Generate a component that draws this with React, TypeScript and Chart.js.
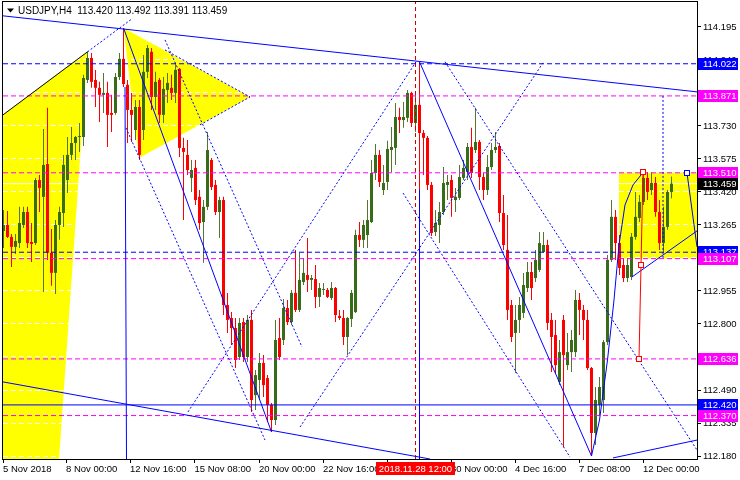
import React, { useEffect, useRef } from 'react';
import { Chart, registerables } from 'chart.js';

Chart.register(...registerables);

const FONT_FAMILY = '"Liberation Sans", Arial, sans-serif';
const FONT_SIZE = 9.5;
const symbolTitle = 'USDJPY,H4';

// H4 candles, 5 Nov 2018 -> 12 Dec 2018
const opens = [
  113.237,113.265,113.209,113.162,113.180,113.265,113.326,113.185,113.180,113.476,
  113.397,113.551,113.134,113.040,113.265,113.321,113.476,113.594,113.650,113.678,
  113.678,113.946,114.049,113.946,113.909,113.876,113.885,113.791,113.791,113.960,
  114.045,113.923,113.805,113.711,113.819,113.711,113.984,114.078,113.866,113.946,
  113.782,113.899,113.909,113.885,113.998,113.627,113.594,113.486,113.533,113.397,
  113.279,113.350,113.570,113.453,113.326,113.382,112.889,112.828,112.781,112.645,
  112.809,112.645,112.819,112.466,112.537,112.617,112.546,112.420,112.349,112.734,
  112.725,112.875,112.809,112.946,112.866,112.997,113.030,113.007,113.011,112.927,
  112.960,112.960,112.922,112.969,112.838,112.828,112.739,112.824,112.856,113.218,
  113.195,113.218,113.279,113.509,113.594,113.429,113.467,113.617,113.627,113.772,
  113.758,113.768,113.885,113.744,113.829,113.697,113.674,113.453,113.232,113.265,
  113.326,113.453,113.476,113.382,113.392,113.486,113.514,113.631,113.617,113.655,
  113.490,113.429,113.537,113.617,113.636,113.321,113.148,112.889,112.758,112.819,
  112.852,112.969,113.044,113.016,113.054,113.138,113.171,112.819,112.748,112.528,
  112.819,112.607,112.668,112.668,112.913,112.866,112.819,112.593,112.288,112.420,
  112.443,112.715,113.101,113.303,113.180,113.077,113.016,113.021,113.209,113.298,
  113.373,113.486,113.429,113.462,113.326,113.180,113.256,113.420
];
const highs = [
  113.335,113.331,113.223,113.223,113.350,113.350,113.350,113.274,113.486,113.500,
  113.716,113.815,113.246,113.288,113.350,113.594,113.678,113.725,113.683,113.744,
  113.970,114.078,114.073,113.993,113.937,113.979,113.937,113.876,113.979,114.073,
  114.190,113.946,113.885,113.852,113.852,114.063,114.110,114.096,113.984,113.955,
  113.960,113.979,113.970,114.026,114.002,113.674,113.664,113.570,113.570,113.429,
  113.382,113.702,113.580,113.476,113.397,113.397,112.946,112.856,112.828,112.828,
  112.828,112.842,112.866,112.584,112.664,112.654,112.560,112.429,112.819,112.828,
  112.917,112.913,112.960,113.148,113.134,113.110,113.204,113.030,113.077,112.993,
  112.993,112.969,112.997,112.974,112.866,112.866,112.833,112.960,113.242,113.279,
  113.288,113.382,113.570,113.645,113.617,113.547,113.660,113.725,113.838,113.815,
  113.843,113.899,113.890,113.890,114.031,113.711,113.683,113.467,113.335,113.373,
  113.537,113.500,113.500,113.439,113.547,113.570,113.650,113.721,113.815,113.664,
  113.509,113.594,113.650,113.702,113.650,113.406,113.312,112.913,112.889,112.927,
  113.040,113.091,113.091,113.148,113.232,113.232,113.195,112.852,112.819,112.725,
  112.842,112.758,112.772,112.960,112.946,112.889,112.866,112.598,112.504,112.551,
  112.725,113.124,113.382,113.335,113.218,113.110,113.110,113.227,113.420,113.406,
  113.514,113.514,113.514,113.490,113.382,113.350,113.429,113.492
];
const lows = [
  113.157,113.204,113.068,113.129,113.157,113.251,113.157,113.091,113.171,113.326,
  112.950,113.101,112.979,112.941,113.195,113.256,113.415,113.570,113.570,113.608,
  113.636,113.932,113.909,113.819,113.749,113.791,113.631,113.702,113.782,113.946,
  113.913,113.650,113.655,113.664,113.570,113.664,113.955,113.805,113.805,113.744,
  113.744,113.838,113.852,113.838,113.584,113.288,113.500,113.420,113.359,113.242,
  113.087,113.335,113.429,113.312,113.204,112.842,112.758,112.701,112.593,112.631,
  112.621,112.621,112.387,112.396,112.443,112.457,112.340,112.293,112.326,112.631,
  112.701,112.795,112.795,112.856,112.856,112.983,112.950,112.960,112.875,112.880,
  112.936,112.922,112.913,112.809,112.819,112.701,112.654,112.786,112.852,113.162,
  113.157,113.157,113.274,113.476,113.443,113.406,113.429,113.514,113.547,113.697,
  113.721,113.749,113.725,113.702,113.429,113.500,113.429,113.213,113.213,113.180,
  113.312,113.382,113.303,113.326,113.382,113.476,113.476,113.486,113.603,113.429,
  113.382,113.406,113.523,113.603,113.279,113.148,112.819,112.715,112.570,112.758,
  112.828,112.950,112.913,112.997,113.044,113.134,112.772,112.575,112.570,112.513,
  112.222,112.584,112.575,112.645,112.748,112.725,112.584,112.180,112.232,112.373,
  112.382,112.701,113.091,113.101,113.030,112.997,112.997,113.007,113.195,113.279,
  113.359,113.382,113.406,113.303,113.148,113.138,113.242,113.391
];
const closes = [
  113.265,113.209,113.162,113.190,113.274,113.326,113.180,113.176,113.476,113.439,
  113.547,113.134,113.040,113.265,113.326,113.547,113.594,113.650,113.678,113.683,
  113.955,114.049,113.937,113.909,113.876,113.885,113.782,113.782,113.960,114.045,
  113.927,113.805,113.782,113.819,113.594,113.984,114.096,113.866,113.937,113.782,
  113.904,113.932,113.885,113.993,113.627,113.608,113.523,113.523,113.382,113.274,
  113.350,113.617,113.443,113.326,113.382,112.889,112.819,112.781,112.631,112.805,
  112.645,112.819,112.443,112.560,112.617,112.513,112.420,112.349,112.725,112.645,
  112.875,112.809,112.946,112.866,113.007,113.040,113.007,113.016,112.927,112.969,
  112.964,112.927,112.969,112.842,112.828,112.739,112.828,112.946,113.218,113.195,
  113.265,113.288,113.509,113.594,113.467,113.462,113.622,113.631,113.772,113.758,
  113.772,113.885,113.744,113.829,113.697,113.674,113.453,113.227,113.274,113.326,
  113.462,113.467,113.392,113.397,113.490,113.533,113.631,113.509,113.655,113.490,
  113.429,113.537,113.617,113.631,113.321,113.171,112.866,112.739,112.819,112.889,
  112.983,113.044,112.969,113.101,113.180,113.171,112.805,112.739,112.607,112.668,
  112.654,112.668,112.725,112.913,112.866,112.819,112.593,112.288,112.443,112.504,
  112.715,113.101,113.303,113.180,113.063,113.016,113.077,113.209,113.303,113.373,
  113.486,113.420,113.462,113.326,113.180,113.256,113.420,113.459
];

// time axis (bar index units) and its labels
const xTickValues = [-0.125, 15.625, 31.625, 47.75, 63.875, 79.875, 95.875, 111.875, 127.875, 143.875, 159.875];
const xTickLabels = ['5 Nov 2018', '8 Nov 00:00', '12 Nov 16:00', '15 Nov 08:00', '20 Nov 00:00', '22 Nov 16:00',
  '27 Nov 08:00', '30 Nov 00:00', '4 Dec 16:00', '7 Dec 08:00', '12 Dec 00:00'];
const yTickValues = [112.180, 112.335, 112.490, 112.645, 112.800, 112.955, 113.110, 113.265, 113.420,
  113.575, 113.730, 113.885, 114.040, 114.195];

const X_MIN = -0.125;
const X_MAX = 173.375;
const Y_MIN = 112.166;
const Y_MAX = 114.312;

// horizontal price levels
const levelPrices = [114.022, 113.871, 113.510, 113.137, 113.107, 112.636, 112.420, 112.370];
const levelColors = ['#0000ff', '#ff00ff', '#ff00ff', '#0000ff', '#ff00ff', '#ff00ff', '#0000ff', '#ff00ff'];
const levelSolid = [false, false, false, false, false, false, true, false];
const bidPrice = 113.459;

// drawn objects: [bar index, price]
const solidBlueLines = [
  [[-0.125, 114.247], [173.375, 113.890]],
  [[-0.125, 112.528], [106.625, 112.166]],
  [[152.375, 112.171], [173.375, 112.255]],
  [[30.375, 113.913], [30.75, 112.166]],
  [[104, 113.429], [104, 112.166]],
  [[30, 114.190], [67, 112.293]],
  [[104, 114.031], [147, 112.180]],
  [[147, 112.180], [149, 112.349], [151, 112.631], [152.625, 112.913], [153.875, 113.171], [155.375, 113.359], [157.375, 113.453], [160, 113.514]],
  [[157.125, 113.021], [173.375, 113.237]],
  [[170.875, 113.509], [173.375, 113.162]],
];
const dottedBlueLines = [
  [[21, 114.078], [32.125, 114.233]],
  [[30.625, 113.721], [65.375, 112.255]],
  [[40.375, 114.134], [74.625, 112.692]],
  [[46.125, 112.387], [103.125, 114.031]],
  [[74.125, 112.316], [134.875, 114.026]],
  [[110.375, 114.031], [173.375, 112.208]],
  [[99.875, 113.415], [141.625, 112.175]],
  [[40.375, 114.087], [61.625, 113.866]],
  [[49.125, 113.735], [61.625, 113.866]],
  [[164.875, 113.871], [164.875, 113.107]],
];
const blackLines = [[[-0.125, 113.782], [21, 114.078]]];
const redLines = [[[159.875, 113.514], [158.875, 112.636]]];
const yellowShapes = [
  [[21, 114.078], [13.875, 112.166], [-2, 112.166], [-2, 113.756]],
  [[30, 114.190], [61.625, 113.866], [33.875, 113.580]],
  [[153.875, 113.510], [176, 113.510], [176, 113.107], [153.875, 113.107]],
];
const timeMarkerBar = 103;
const timeMarkerText = '2018.11.28 12:00';
const redAnchors = [[159.875, 113.514], [159.375, 113.075], [158.875, 112.636]];
const blueAnchors = [[170.875, 113.509]];

const BULL_BODY = '#386c18';
const BULL_WICK = '#557530';
const BEAR = '#ff0000';

const font = (size = FONT_SIZE) => `${size}px ${FONT_FAMILY}`;

const backgroundShapes = {
  id: 'backgroundShapes',
  beforeDraw(chart: any) {
    const { ctx, chartArea: a, scales } = chart;
    const xs = scales.x, ys = scales.y;
    ctx.save();
    ctx.beginPath();
    ctx.rect(a.left, a.top, a.right - a.left, a.bottom - a.top);
    ctx.clip();
    ctx.fillStyle = '#ffff00';
    for (const shape of yellowShapes) {
      ctx.beginPath();
      shape.forEach(([bx, p]: number[], k: number) => {
        const px = xs.getPixelForValue(bx), py = ys.getPixelForValue(p);
        if (k) ctx.lineTo(px, py); else ctx.moveTo(px, py);
      });
      ctx.closePath();
      ctx.fill();
    }
    ctx.restore();
  },
};

const overlay = {
  id: 'overlay',
  afterDraw(chart: any) {
    const { ctx, chartArea: a, scales } = chart;
    const xs = scales.x, ys = scales.y;
    ctx.save();
    // frame
    ctx.strokeStyle = '#000';
    ctx.lineWidth = 1;
    ctx.strokeRect(a.left - 0.5, a.top - 0.5, a.right - a.left + 1, a.bottom - a.top + 1);

    // anchor squares of selected objects
    const square = (pts: number[][], color: string) => {
      for (const [bx, p] of pts) {
        const px = Math.round(xs.getPixelForValue(bx)), py = Math.round(ys.getPixelForValue(p));
        ctx.fillStyle = '#fff';
        ctx.fillRect(px - 2, py - 2, 4, 4);
        ctx.strokeStyle = color;
        ctx.strokeRect(px - 2.5, py - 2.5, 5, 5);
      }
    };
    square(redAnchors, '#ff0000');
    square(blueAnchors, '#0000ff');

    // price boxes on the price axis
    const boxes = levelPrices.map((p, i) => ({ p, c: levelColors[i] }));
    boxes.push({ p: bidPrice, c: '#000000' });
    boxes.sort((u, v) => v.p - u.p);
    ctx.font = font();
    ctx.textBaseline = 'middle';
    ctx.textAlign = 'left';
    for (const b of boxes) {
      const py = ys.getPixelForValue(b.p);
      const top = Math.round(py - 6);
      ctx.fillStyle = b.c;
      ctx.fillRect(a.right + 1, top, 40, 12);
      ctx.fillStyle = '#ffffff';
      ctx.fillText(b.p.toFixed(3), a.right + 6, top + 6.5);
    }

    // time marker label
    const tx = xs.getPixelForValue(timeMarkerBar);
    const tw = ctx.measureText(timeMarkerText).width + 6;
    ctx.fillStyle = '#ff0000';
    ctx.fillRect(Math.round(tx - tw / 2), a.bottom + 3, Math.round(tw), 13);
    ctx.fillStyle = '#ffffff';
    ctx.textAlign = 'center';
    ctx.fillText(timeMarkerText, tx, a.bottom + 10);

    // title
    const n = opens.length - 1;
    const title = `${symbolTitle}  ${opens[n].toFixed(3)} ${highs[n].toFixed(3)} ${lows[n].toFixed(3)} ${closes[n].toFixed(3)}`;
    ctx.fillStyle = '#000';
    ctx.beginPath();
    ctx.moveTo(7, 8.5); ctx.lineTo(14, 8.5); ctx.lineTo(10.5, 12.5); ctx.closePath();
    ctx.fill();
    ctx.textAlign = 'left';
    ctx.font = font(10);
    ctx.fillText(title, 18, 11);
    ctx.restore();
  },
};

const lineDs = (pts: number[][], color: string, dash: number[], order: number) => ({
  type: 'line',
  data: pts.map(([x, y]) => ({ x, y })),
  borderColor: color,
  backgroundColor: color,
  borderWidth: 1,
  borderDash: dash,
  pointRadius: 0,
  pointHoverRadius: 0,
  fill: false,
  tension: 0,
  clip: 0,
  order,
});

export default function App() {
  const ref = useRef<HTMLCanvasElement>(null);
  useEffect(() => {
    document.body.style.margin = '0';
    const canvas = ref.current;
    if (!canvas) return;
    const idx = opens.map((_, i) => i);
    const bull = idx.map((i) => closes[i] >= opens[i]);

    const datasets: any[] = [];
    datasets.push(lineDs([[X_MIN, bidPrice], [X_MAX, bidPrice]], '#ffffff', [], 30));
    datasets.push({
      type: 'bar',
      data: idx.map((i) => ({ x: i, y: [lows[i], highs[i]] })),
      backgroundColor: idx.map((i) => (bull[i] ? BULL_WICK : BEAR)),
      barThickness: 1, maxBarThickness: 1, grouped: false, borderWidth: 0, inflateAmount: 0, order: 21,
    });
    datasets.push({
      type: 'bar',
      data: idx.map((i) => ({ x: i, y: [opens[i], closes[i]] })),
      backgroundColor: idx.map((i) => (bull[i] ? BULL_BODY : BEAR)),
      barThickness: 3, maxBarThickness: 3, minBarLength: 1, grouped: false, borderWidth: 0, inflateAmount: 0, order: 20,
    });
    datasets.push(lineDs([[timeMarkerBar, Y_MIN], [timeMarkerBar, Y_MAX]], '#d00000', [4, 3], 6));
    levelPrices.forEach((p, i) => {
      datasets.push(lineDs([[X_MIN, p], [X_MAX, p]], levelColors[i], levelSolid[i] ? [] : [5, 3], 5));
    });
    dottedBlueLines.forEach((l) => datasets.push(lineDs(l, '#0000ff', [2, 2], 4)));
    solidBlueLines.forEach((l) => datasets.push(lineDs(l, '#0000ff', [], 3)));
    blackLines.forEach((l) => datasets.push(lineDs(l, '#000000', [], 3)));
    redLines.forEach((l) => datasets.push(lineDs(l, '#ff0000', [], 2)));

    const tickFont = { family: FONT_FAMILY, size: FONT_SIZE };
    const chart = new Chart(canvas, {
      type: 'bar',
      data: { datasets },
      options: {
        responsive: false,
        animation: false,
        devicePixelRatio: 1,
        events: [],
        layout: { padding: { left: 3, top: 2, right: 0, bottom: 0 } },
        plugins: { legend: { display: false }, tooltip: { enabled: false }, title: { display: false } },
        scales: {
          x: {
            type: 'linear', position: 'bottom', min: X_MIN, max: X_MAX, offset: false,
            grid: { display: true, drawOnChartArea: false, drawTicks: true, tickLength: 4, color: '#000', tickColor: '#000', offset: false },
            border: { display: false },
            ticks: {
              autoSkip: false, maxRotation: 0, minRotation: 0, align: 'start', padding: 1, color: '#000', font: tickFont,
              callback: (_v: any, i: number) => xTickLabels[i],
            },
            afterBuildTicks: (s: any) => { s.ticks = xTickValues.map((v) => ({ value: v })); },
            afterFit: (s: any) => { s.height = 21; s.paddingLeft = 0; s.paddingRight = 0; },
          },
          y: {
            type: 'linear', position: 'right', min: Y_MIN, max: Y_MAX,
            grid: { display: true, drawOnChartArea: true, color: '#ffffff', tickLength: 4, tickColor: '#000' },
            border: { display: false, dash: [5, 3] },
            ticks: { padding: 2, color: '#000', font: tickFont, callback: (v: any) => Number(v).toFixed(3) },
            afterBuildTicks: (s: any) => { s.ticks = yTickValues.map((v) => ({ value: v })); },
            afterFit: (s: any) => { s.width = 43; s.paddingTop = 0; s.paddingBottom = 0; },
          },
        },
      } as any,
      plugins: [backgroundShapes, overlay],
    } as any);
    return () => chart.destroy();
  }, []);
  return <canvas ref={ref} width={740} height={480} style={{ display: 'block', width: 740, height: 480 }} />;
}
